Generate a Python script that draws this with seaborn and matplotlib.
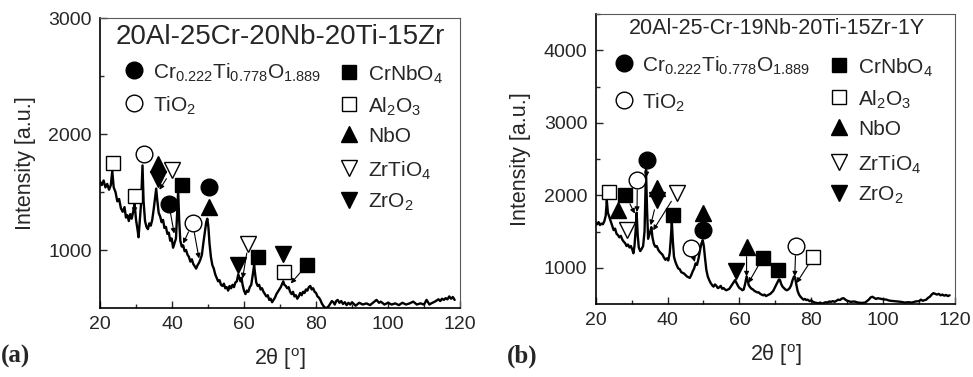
import numpy as np
import pandas as pd
import seaborn as sns
import matplotlib.pyplot as plt

# === Diffraction patterns ===
two_theta_a = [20.0, 20.5, 21.0, 21.5, 22.0, 22.5, 23.0, 23.4, 23.8, 24.3, 24.8, 25.3, 25.8, 26.3, 26.8,
               27.2, 27.6, 28.0, 28.4, 28.8, 29.2, 29.6, 30.0, 30.4, 30.7, 31.0, 31.4, 31.8, 32.1, 32.5,
               32.9, 33.3, 33.7, 34.1, 34.5, 34.9, 35.3, 35.6, 35.9, 36.3, 36.7, 37.1, 37.5, 37.9, 38.3,
               38.7, 39.1, 39.5, 39.9, 40.3, 40.7, 41.1, 41.4, 41.7, 42.0, 42.3, 42.7, 43.1, 43.5, 43.9,
               44.3, 44.7, 45.1, 45.5, 45.9, 46.3, 46.7, 47.1, 47.5, 47.9, 48.3, 48.7, 49.1, 49.5, 49.8,
               50.1, 50.4, 50.8, 51.2, 51.6, 52.0, 52.4, 52.8, 53.2, 53.6, 54.0, 54.4, 54.8, 55.2, 55.6,
               56.0, 56.4, 56.8, 57.2, 57.6, 58.0, 58.4, 58.7, 59.0, 59.3, 59.6, 60.0, 60.4, 60.8, 61.2,
               61.6, 62.0, 62.4, 62.8, 63.1, 63.4, 63.8, 64.2, 64.6, 65.0, 65.4, 65.8, 66.2, 66.6, 67.0,
               67.4, 67.8, 68.2, 68.6, 69.0, 69.4, 69.8, 70.2, 70.6, 70.9, 71.2, 71.6, 72.0, 72.4, 72.8,
               73.2, 73.6, 74.0, 74.4, 74.8, 75.2, 75.6, 76.0, 76.4, 76.8, 77.2, 77.6, 78.0, 78.4, 78.8,
               79.2, 79.6, 80.0, 80.4, 80.8, 81.2, 81.6, 82.0, 82.4, 82.8, 83.2, 83.6, 84.0, 84.4, 84.8,
               85.2, 85.6, 86.0, 86.5, 87.0, 87.5, 88.0, 88.5, 89.0, 89.5, 90.0, 91.0, 92.0, 93.0, 94.0,
               95.0, 96.0, 96.8, 97.5, 98.0, 99.0, 100.0, 101.0, 102.0, 103.0, 104.0, 105.0, 106.0, 107.0,
               108.0, 109.0, 110.0, 110.7, 111.5, 112.0, 113.0, 114.0, 114.5, 115.0, 115.5, 116.0, 116.5,
               117.0, 117.5, 118.0, 118.5]
intensity_a = [1590, 1560, 1600, 1540, 1570, 1520, 1560, 1680, 1540, 1500, 1420, 1440, 1360, 1330, 1370,
               1280, 1300, 1250, 1310, 1270, 1330, 1400, 1260, 1180, 1110, 1230, 1400, 1730, 1420, 1250,
               1200, 1180, 1230, 1210, 1260, 1350, 1450, 1530, 1430, 1320, 1290, 1240, 1260, 1190, 1200,
               1140, 1150, 1080, 1100, 1020, 1060, 1100, 1300, 1510, 1250, 1080, 1030, 1040, 990, 1000,
               960, 940, 900, 920, 880, 860, 840, 870, 890, 920, 960, 1060, 1150, 1240, 1270,
               1200, 1060, 940, 870, 840, 790, 760, 730, 740, 700, 690, 710, 670, 680, 650,
               690, 670, 700, 680, 720, 730, 790, 760, 730, 760, 700, 650, 620, 650, 640,
               680, 700, 780, 870, 790, 720, 690, 700, 660, 670, 640, 620, 600, 610, 570,
               580, 550, 570, 590, 620, 640, 660, 680, 710, 730, 700, 690, 670, 680, 640,
               620, 640, 600, 610, 580, 600, 630, 610, 640, 630, 660, 650, 680, 690, 660,
               670, 640, 630, 600, 590, 570, 540, 520, 505, 500, 505, 520, 540, 560, 550,
               530, 560, 570, 545, 560, 535, 550, 525, 545, 530, 550, 520, 545, 530, 540,
               525, 550, 570, 545, 555, 530, 545, 530, 540, 525, 545, 530, 540, 555,
               530, 540, 530, 570, 530, 540, 555, 575, 560, 580, 570, 585, 575,
               600, 580, 595, 570]

two_theta_b = [20.0, 20.4, 20.8, 21.2, 21.6, 22.0, 22.4, 22.8, 23.1, 23.4, 23.8, 24.2, 24.6, 25.0, 25.4,
               25.8, 26.2, 26.6, 27.0, 27.4, 27.8, 28.2, 28.6, 29.0, 29.4, 29.8, 30.2, 30.5, 30.8, 31.1,
               31.4, 31.7, 32.0, 32.4, 32.8, 33.2, 33.6, 34.0, 34.3, 34.6, 34.9, 35.2, 35.5, 35.8, 36.2,
               36.6, 37.0, 37.4, 37.8, 38.2, 38.6, 39.0, 39.4, 39.8, 40.2, 40.6, 40.9, 41.2, 41.5, 41.8,
               42.2, 42.6, 43.0, 43.4, 43.8, 44.2, 44.6, 45.0, 45.4, 45.8, 46.2, 46.6, 47.0, 47.4, 47.8,
               48.2, 48.6, 49.0, 49.4, 49.8, 50.1, 50.4, 50.8, 51.2, 51.6, 52.0, 52.4, 52.8, 53.2, 53.6,
               54.0, 54.4, 54.8, 55.2, 55.6, 56.0, 56.4, 56.8, 57.2, 57.6, 58.0, 58.4, 58.8, 59.2, 59.6,
               60.0, 60.4, 60.8, 61.2, 61.6, 62.0, 62.3, 62.6, 63.0, 63.4, 63.8, 64.2, 64.6, 65.0, 65.4,
               65.8, 66.2, 66.6, 67.0, 67.4, 67.8, 68.2, 68.6, 69.0, 69.4, 69.8, 70.2, 70.6, 71.0, 71.3,
               71.6, 72.0, 72.4, 72.8, 73.2, 73.6, 74.0, 74.4, 74.8, 75.2, 75.5, 75.8, 76.2, 76.6, 77.0,
               77.4, 77.8, 78.2, 78.6, 79.0, 79.5, 80.0, 80.5, 81.0, 81.5, 82.0, 82.5, 83.0, 83.5, 84.0,
               84.5, 85.0, 85.5, 86.0, 86.5, 87.0, 87.5, 88.0, 88.5, 89.0, 89.5, 90.0, 91.0, 92.0, 93.0,
               94.0, 95.0, 95.5, 96.0, 96.5, 97.0, 97.5, 98.0, 98.5, 99.0, 100.0, 101.0, 101.5, 102.0,
               103.0, 104.0, 105.0, 106.0, 107.0, 108.0, 109.0, 110.0, 110.5, 111.0, 112.0, 112.5, 113.0,
               113.5, 114.0, 114.5, 115.0, 115.5, 116.0, 116.5, 117.0, 117.5, 118.0, 118.5]
intensity_b = [1620, 1600, 1630, 1590, 1610, 1600, 1640, 1720, 1930, 1760, 1700, 1640, 1580, 1520, 1540,
               1470, 1450, 1420, 1440, 1390, 1360, 1340, 1300, 1320, 1280, 1300, 1250, 1200, 1300, 1500,
               1760, 1450, 1280, 1230, 1260, 1300, 1500, 2350, 1800, 1400, 1450, 1500, 1560, 1420, 1330,
               1290, 1300, 1250, 1220, 1200, 1180, 1140, 1110, 1130, 1100, 1200, 1400, 1630, 1350, 1150,
               1080, 1030, 990, 980, 940, 930, 920, 900, 880, 870, 860, 900, 950, 990, 1060,
               1040, 1120, 1230, 1330, 1380, 1300, 1150, 970, 880, 830, 790, 760, 740, 770, 750,
               720, 730, 750, 710, 720, 700, 690, 700, 710, 740, 770, 800, 830, 790, 750,
               720, 710, 690, 700, 780, 880, 820, 760, 730, 710, 700, 680, 670, 660, 660,
               640, 630, 620, 630, 610, 620, 630, 640, 660, 680, 720, 760, 800, 840, 830,
               780, 740, 720, 700, 690, 700, 720, 760, 830, 880, 870, 780, 680, 630, 600,
               580, 560, 570, 555, 560, 540, 550, 530, 520, 515, 510, 520, 505, 515, 525,
               520, 535, 530, 540, 530, 545, 560, 555, 575, 580, 560, 545, 530, 535, 520,
               515, 520, 540, 560, 590, 600, 585, 570, 580, 575, 565, 560, 550, 545,
               540, 535, 530, 520, 525, 520, 535, 540, 560, 545, 560, 585, 600,
               630, 650, 640, 630, 640, 620, 630, 615, 625, 610, 620]

# === Phases ===
phase_labels = [r"Cr$_{0.222}$Ti$_{0.778}$O$_{1.889}$", r"TiO$_2$", r"CrNbO$_4$", r"Al$_2$O$_3$",
                "NbO", r"ZrTiO$_4$", r"ZrO$_2$"]
phase_markers = ["o", "o", "s", "s", "^", "v", "v"]
phase_filled = [True, False, True, False, True, False, True]
phase_sizes = [12, 12, 10.5, 10.5, 11.5, 11.5, 11.5]

# peak labels: (phase index, marker 2theta, marker intensity, [arrow targets])
peaks_a = [
    (3, 23.7, 1752, []),
    (3, 29.6, 1465, [(29.6, 1320)]),
    (1, 32.2, 1829, []),
    (4, 36.1, 1743, []),
    (6, 36.1, 1614, []),
    (5, 39.9, 1686, [(36.5, 1520)]),
    (0, 39.1, 1400, [(40.6, 1142)]),
    (2, 42.7, 1563, []),
    (0, 50.3, 1542, []),
    (4, 50.3, 1370, []),
    (1, 45.7, 1233, [(43.1, 1056), (47.5, 927)]),
    (6, 58.4, 875, []),
    (5, 61.2, 1056, [(59.6, 755)]),
    (2, 64.0, 941, []),
    (6, 70.7, 970, []),
    (3, 71.1, 812, []),
    (2, 77.4, 869, [(73.0, 712)]),
]
peaks_b = [
    (3, 23.6, 2045, []),
    (2, 28.3, 2000, [(30.9, 1748)]),
    (4, 26.1, 1802, []),
    (5, 28.6, 1518, []),
    (1, 31.6, 2206, [(31.5, 1770)]),
    (0, 34.4, 2490, [(34.1, 2250)]),
    (4, 37.0, 2100, []),
    (6, 37.0, 1930, [(35.3, 1587)]),
    (5, 42.5, 2031, [(36.0, 1518)]),
    (2, 41.6, 1724, []),
    (4, 49.9, 1761, []),
    (0, 49.9, 1518, []),
    (1, 46.5, 1266, [(47.6, 1080)]),
    (6, 59.0, 958, []),
    (4, 62.0, 1288, [(62.0, 880)]),
    (2, 66.5, 1137, [(62.5, 790)]),
    (2, 70.8, 968, []),
    (1, 75.7, 1298, [(75.4, 880)]),
    (3, 80.6, 1151, [(75.9, 790)]),
]

titles = ["20Al-25Cr-20Nb-20Ti-15Zr", "20Al-25-Cr-19Nb-20Ti-15Zr-1Y"]

# === Style ===
sns.set_style("ticks")
plt.rcParams['font.family'] = ['Liberation Sans', 'DejaVu Sans']
plt.rcParams['mathtext.default'] = 'regular'
plt.rcParams['xtick.direction'] = 'in'
plt.rcParams['ytick.direction'] = 'in'


def marker_kw(i):
    face = "black" if phase_filled[i] else "white"
    return dict(marker=phase_markers[i], ms=phase_sizes[i], mfc=face, mec="black", mew=1.0,
                linestyle="none")


def draw_panel(ax, x, y, peaks, ylim, yticks, title, title_pos, title_size, leg_left, leg_right):
    df = pd.DataFrame({"two_theta": x, "intensity": y})
    sns.lineplot(data=df, x="two_theta", y="intensity", ax=ax, color="black", lw=1.7,
                 sort=False, estimator=None, zorder=2)

    for idx, px, py, targets in peaks:
        for tx, ty in targets:
            ax.annotate("", xy=(tx, ty), xytext=(px, py),
                        arrowprops=dict(arrowstyle="-|>", color="black", lw=0.8,
                                        shrinkA=7, shrinkB=0, mutation_scale=7), zorder=3)
        ax.plot([px], [py], zorder=4, clip_on=False, **marker_kw(idx))

    # phase legend, drawn by hand like the original
    lx, tx, ys = leg_left
    for k, i in enumerate([0, 1]):
        ax.plot([lx], [ys[k]], transform=ax.transAxes, clip_on=False, **marker_kw(i))
        ax.text(tx, ys[k], phase_labels[i], transform=ax.transAxes, fontsize=15,
                va="center_baseline", ha="left")
    lx, tx, ys = leg_right
    for k, i in enumerate([2, 3, 4, 5, 6]):
        ax.plot([lx], [ys[k]], transform=ax.transAxes, clip_on=False, **marker_kw(i))
        ax.text(tx, ys[k], phase_labels[i], transform=ax.transAxes, fontsize=15,
                va="center_baseline", ha="left")

    ax.text(title_pos[0], title_pos[1], title, transform=ax.transAxes, fontsize=title_size,
            ha="center", va="center")

    ax.set_xticks([20, 40, 60, 80, 100, 120])
    ax.set_xticks([30, 50, 70, 90, 110], minor=True)
    ax.set_yticks(yticks)
    ax.set_yticks([v + 500 for v in yticks if v + 500 <= ylim[1]], minor=True)
    ax.set_xlim(20, 120)
    ax.set_ylim(*ylim)
    ax.tick_params(axis="both", which="major", labelsize=14, length=5, width=1, pad=6,
                   top=False, right=False)
    ax.tick_params(axis="both", which="minor", length=3, width=1, top=False, right=False)
    ax.set_xlabel(r"2θ [$^{o}$]", fontsize=15.5, labelpad=9)
    ax.set_ylabel("Intensity [a.u.]", fontsize=15.5, labelpad=9)
    for side in ["left", "bottom"]:
        ax.spines[side].set_linewidth(1.2)
        ax.spines[side].set_color("black")
    for side in ["top", "right"]:
        ax.spines[side].set_linewidth(0.8)
        ax.spines[side].set_color("0.35")


fig = plt.figure(figsize=(9.73, 3.77), dpi=100)
ax_a = fig.add_axes([0.1028, 0.183, 0.370, 0.769])
ax_b = fig.add_axes([0.6122, 0.1936, 0.3693, 0.769])

draw_panel(ax_a, two_theta_a, intensity_a, peaks_a, (500, 3000), [1000, 2000, 3000],
           titles[0], (0.5, 0.934), 20,
           (0.094, 0.147, [0.821, 0.707]),
           (0.692, 0.744, [0.814, 0.703, 0.600, 0.483, 0.372]))
draw_panel(ax_b, two_theta_b, intensity_b, peaks_b, (500, 4500), [1000, 2000, 3000, 4000],
           titles[1], (0.505, 0.952), 15.5,
           (0.079, 0.129, [0.831, 0.703]),
           (0.678, 0.730, [0.824, 0.714, 0.610, 0.490, 0.383]))

fig.text(0.001, 0.055, "(a)", fontsize=18, fontweight="bold", family="Liberation Serif",
         va="center", ha="left")
fig.text(0.521, 0.055, "(b)", fontsize=18, fontweight="bold", family="Liberation Serif",
         va="center", ha="left")

fig.savefig("out.png", dpi=100)
